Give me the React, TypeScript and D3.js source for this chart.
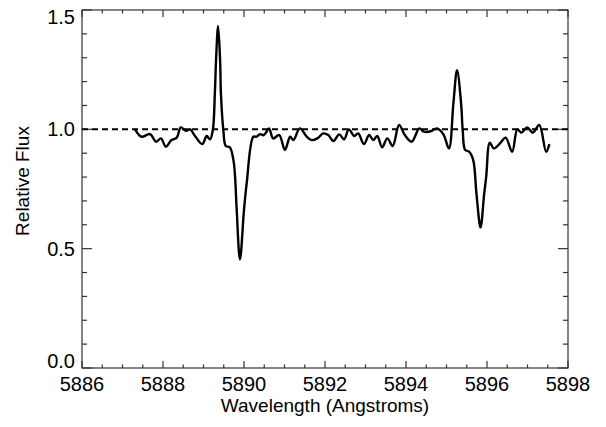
import React from "react";
import * as d3 from "d3";

// Normalised spectrum around the sodium D lines
const wavelength = [
  5887.31, 5887.47, 5887.68, 5887.83, 5887.95, 5888.07, 5888.21, 5888.34, 5888.44, 5888.57,
  5888.67, 5888.79, 5888.97, 5889.08, 5889.16, 5889.23, 5889.28, 5889.31, 5889.36, 5889.41,
  5889.43, 5889.49, 5889.55, 5889.65, 5889.74, 5889.78, 5889.82, 5889.90, 5890.0, 5890.07,
  5890.23, 5890.31, 5890.40, 5890.48, 5890.54, 5890.62, 5890.72, 5890.87, 5891.01, 5891.14,
  5891.22, 5891.38, 5891.55, 5891.67, 5891.81, 5891.96, 5892.08, 5892.21, 5892.35, 5892.47,
  5892.59, 5892.72, 5892.82, 5892.96, 5893.09, 5893.19, 5893.29, 5893.41, 5893.54, 5893.67,
  5893.83, 5893.97, 5894.14, 5894.33, 5894.44, 5894.63, 5894.76, 5894.92, 5895.06, 5895.17,
  5895.26, 5895.36, 5895.40, 5895.46, 5895.56, 5895.66, 5895.74, 5895.84, 5895.93, 5895.98,
  5896.07, 5896.17, 5896.32, 5896.46, 5896.62, 5896.75, 5896.85, 5896.99, 5897.13, 5897.29,
  5897.46, 5897.54,
];
const flux = [
  1.0, 0.969, 0.98, 0.948, 0.962, 0.927, 0.955, 0.965, 1.008, 0.994,
  1.0, 0.972, 0.938, 0.972, 0.958, 0.997, 1.15, 1.29, 1.433, 1.29,
  1.15, 0.997, 0.93, 0.925, 0.87, 0.8, 0.662, 0.455, 0.662, 0.78,
  0.969, 0.969, 0.98, 0.975, 0.986, 1.004, 0.962, 0.976, 0.914, 0.969,
  0.955, 1.004, 0.969, 0.955, 0.962, 0.983, 0.976, 0.951, 0.979, 0.958,
  1.0, 0.972, 0.983, 0.938, 0.976, 0.955, 0.972, 0.925, 0.962, 0.93,
  1.018, 0.976, 0.948, 1.004, 0.99, 0.993, 1.004, 0.98, 0.92, 1.109,
  1.248, 1.109, 0.997, 0.914, 0.906, 0.871, 0.73, 0.589, 0.73, 0.801,
  0.944, 0.92, 0.941, 0.965, 0.906, 1.0, 0.986, 1.008, 0.986, 1.018,
  0.906, 0.938,
];
const xTicks = [5886, 5888, 5890, 5892, 5894, 5896, 5898];
const yTicks = [0.0, 0.5, 1.0, 1.5];
const continuum = 1.0;

const W = 606;
const H = 427;
const left = 82;
const right = 568;
const top = 10;
const bottom = 368;
const font = "'Liberation Sans', Arial, sans-serif";

export default function App() {
  const x = d3.scaleLinear().domain([5886, 5898]).range([left, right]);
  const y = d3.scaleLinear().domain([0, 1.5]).range([bottom, top]);

  const pts = wavelength.map((w, i) => [w, flux[i]] as [number, number]);
  const line = d3
    .line<[number, number]>()
    .x((d) => x(d[0]))
    .y((d) => y(d[1]))
    .curve(d3.curveCatmullRom.alpha(0.5));

  const xMinor = d3.range(5886, 5898.001, 0.5);
  const yMinor = d3.range(0, 1.5001, 0.1);
  const xMajLen = 7;
  const xMinLen = 3.5;
  const yMajLen = 10;
  const yMinLen = 5;
  const axisColor = "#333";

  // keep the end labels inside the frame's vertical extent
  const yLabelBaseline = (v: number) => {
    const py = y(v) + 7;
    return Math.min(Math.max(py, top + 14), bottom);
  };

  return (
    <svg
      width={W}
      height={H}
      style={{ position: "absolute", left: 0, top: 0, background: "#fff" }}
      fontFamily={font}
    >
      <rect x={0} y={0} width={W} height={H} fill="#fff" />
      {/* frame */}
      <rect
        x={left}
        y={top}
        width={right - left}
        height={bottom - top}
        fill="none"
        stroke={axisColor}
        strokeWidth={1.2}
      />
      {/* x ticks, bottom and top */}
      {xMinor.map((v, i) => {
        const isMajor = Math.abs((v - 5886) % 2) < 1e-6;
        const len = isMajor ? xMajLen : xMinLen;
        const px = x(v);
        return (
          <g key={"xt" + i} stroke={axisColor} strokeWidth={1.2}>
            <line x1={px} x2={px} y1={bottom} y2={bottom - len} />
            <line x1={px} x2={px} y1={top} y2={top + len} />
          </g>
        );
      })}
      {/* y ticks, left and right */}
      {yMinor.map((v, i) => {
        const isMajor = i % 5 === 0;
        const len = isMajor ? yMajLen : yMinLen;
        const py = y(v);
        return (
          <g key={"yt" + i} stroke={axisColor} strokeWidth={1.2}>
            <line x1={left} x2={left + len} y1={py} y2={py} />
            <line x1={right} x2={right - len} y1={py} y2={py} />
          </g>
        );
      })}
      {xTicks.map((v) => (
        <text
          key={"xl" + v}
          x={x(v)}
          y={bottom + 23}
          textAnchor="middle"
          fontSize={20}
          fill="#000"
        >
          {v}
        </text>
      ))}
      {yTicks.map((v) => (
        <text
          key={"yl" + v}
          x={left - 7}
          y={yLabelBaseline(v)}
          textAnchor="end"
          fontSize={20}
          fill="#000"
        >
          {v.toFixed(1)}
        </text>
      ))}
      <text
        x={(left + right) / 2}
        y={bottom + 44}
        textAnchor="middle"
        fontSize={19}
        fill="#000"
      >
        Wavelength (Angstroms)
      </text>
      <text
        transform={`translate(29,181) rotate(-90)`}
        textAnchor="middle"
        fontSize={19}
        fill="#000"
      >
        Relative Flux
      </text>
      {/* continuum level */}
      <line
        x1={left}
        x2={right}
        y1={y(continuum)}
        y2={y(continuum)}
        stroke="#000"
        strokeWidth={2}
        strokeDasharray="6 4"
      />
      <path
        d={line(pts) || ""}
        fill="none"
        stroke="#000"
        strokeWidth={2.4}
        strokeLinejoin="round"
      />
    </svg>
  );
}
